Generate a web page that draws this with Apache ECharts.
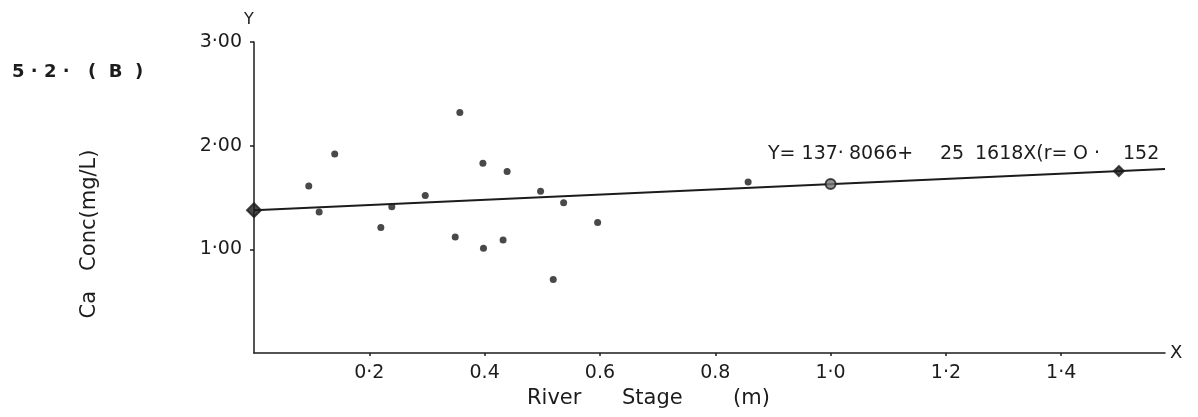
<!DOCTYPE html>
<html>
<head>
<meta charset="utf-8">
<script src="https://cdn.jsdelivr.net/npm/echarts@6/dist/echarts.min.js"></script>
<style>html,body{margin:0;padding:0;background:#fff;}#c{width:1198px;height:417px;}</style>
</head>
<body>
<div id="c"></div>
<script>
// River stage (m) and Ca concentration (mg/L) observations
const stageX = [0.095, 0.113, 0.140, 0.220, 0.239, 0.297, 0.349, 0.357, 0.397, 0.398, 0.432, 0.439, 0.497, 0.519, 0.537, 0.596, 0.857];
const caY    = [1.61,  1.36,  1.92,  1.21,  1.41,  1.52,  1.12,  2.32,  1.83,  1.01,  1.09,  1.75,  1.56,  0.71,  1.45,  1.26,  1.65];
// Regression line endpoints and marked points on it
const fitX = [0, 1.58];
const fitY = [1.378, 1.776];
const fitMarkX = [0, 1.0, 1.5];
const fitMarkY = [1.378, 1.63, 1.755];
// Tick values and labels
const xTickValues = [0.2, 0.4, 0.6, 0.8, 1.0, 1.2, 1.4];
const xTickLabels = ['0·2', '0.4', '0.6', '0.8', '1·0', '1·2', '1·4'];
const yTickValues = [1, 2, 3];
const yTickLabels = ['1·00', '2·00', '3·00'];
// Text pieces
const equationParts = ['Y= 137·', '8066+', '25', '1618X(r=', 'O', '·', '152'];
const xNameParts = ['River', 'Stage', '(m)'];
const figParts = ['5 · 2 ·', '(  B  )'];
const yNameText = 'Ca   Conc(mg/L)';

const INK = '#1c1c1c';
const FONT = 'DejaVu Sans';

const xLabelMap = {}; xTickValues.forEach((v, i) => xLabelMap[v.toFixed(2)] = xTickLabels[i]);
const yLabelMap = {}; yTickValues.forEach((v, i) => yLabelMap[v.toFixed(2)] = yTickLabels[i]);

const eqLeft = [768, 849, 940, 975, 1073, 1094, 1123];
const xNameLeft = [527, 622, 733];
const figLeft = [12, 88];

const txt = (left, top, text, size, extra) => ({type: 'text', left, top,
  style: Object.assign({text, fontFamily: FONT, fontSize: size, fill: INK}, extra || {})});

const graphics = [];
equationParts.forEach((t, i) => graphics.push(txt(eqLeft[i], 145, t, 19)));
xNameParts.forEach((t, i) => graphics.push(txt(xNameLeft[i], 388, t, 21)));
figParts.forEach((t, i) => graphics.push(txt(figLeft[i], 63, t, 18, {fontWeight: 'bold'})));
graphics.push(txt(244, 12, 'Y', 16));
graphics.push(txt(1170, 344, 'X', 18));
graphics.push({type: 'text', x: 90, y: 234, rotation: Math.PI / 2,
  style: {text: yNameText, fontFamily: FONT, fontSize: 21, fill: INK, align: 'center', verticalAlign: 'middle'}});

const chart = echarts.init(document.getElementById('c'), null, {renderer: 'canvas'});
chart.setOption({
  backgroundColor: '#fff',
  animation: false,
  grid: {left: 254, top: 42, right: 33, bottom: 64, containLabel: false},
  xAxis: {
    type: 'value', min: 0, max: 1.58,
    splitLine: {show: false},
    axisLine: {show: true, onZero: false, lineStyle: {color: INK, width: 1.5}},
    axisTick: {show: true, length: 3, customValues: xTickValues, lineStyle: {color: INK, width: 1.5}},
    axisLabel: {customValues: xTickValues, margin: 11, color: INK, fontFamily: FONT, fontSize: 19,
      formatter: v => xLabelMap[Number(v).toFixed(2)] || ''}
  },
  yAxis: {
    type: 'value', min: 0, max: 3,
    splitLine: {show: false},
    axisLine: {show: true, onZero: false, lineStyle: {color: INK, width: 1.5}},
    axisTick: {show: true, length: 4, customValues: yTickValues, lineStyle: {color: INK, width: 1.5}},
    axisLabel: {customValues: yTickValues, margin: 12, color: INK, fontFamily: FONT, fontSize: 19,
      formatter: v => yLabelMap[Number(v).toFixed(2)] || ''}
  },
  series: [
    {
      type: 'line',
      data: fitX.map((x, i) => [x, fitY[i]]),
      showSymbol: false, symbol: 'none',
      lineStyle: {color: INK, width: 2},
      z: 2
    },
    {
      type: 'scatter',
      data: fitMarkX.map((x, i) => [x, fitMarkY[i]]),
      symbol: (v, p) => p.dataIndex === 1 ? 'circle' : 'diamond',
      symbolSize: (v, p) => p.dataIndex === 0 ? 14 : 10,
      itemStyle: {color: (p) => p.dataIndex === 1 ? '#777' : INK, borderColor: INK, borderWidth: 2},
      z: 4
    },
    {
      type: 'scatter',
      data: stageX.map((x, i) => [x, caY[i]]),
      symbol: 'circle',
      symbolSize: 7,
      itemStyle: {color: INK},
      z: 3
    }
  ],
  graphic: graphics
});
</script>
</body>
</html>
